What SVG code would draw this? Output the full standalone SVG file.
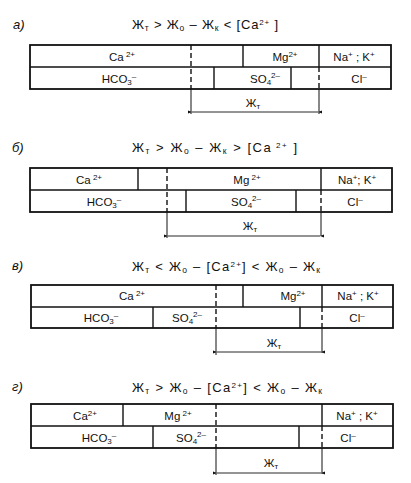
<svg xmlns="http://www.w3.org/2000/svg" width="411" height="483" viewBox="0 0 411 483">
<style>
text{font-family:"Liberation Sans","DejaVu Sans",sans-serif;fill:#111;}
.lbl{font-size:11.5px;text-anchor:middle;}
.ttl{font-size:13px;}
.tag{font-size:13px;font-style:italic;}
.box{fill:#fff;stroke:#111;stroke-width:1.8;}
.sep{stroke:#111;stroke-width:1.4;fill:none;}
.dash{stroke:#111;stroke-width:1.4;stroke-dasharray:5 3;fill:none;}
.thin{stroke:#111;stroke-width:1;fill:none;}
.br{stroke:#111;stroke-width:0.9;fill:none;marker-start:url(#ah);marker-end:url(#ah);}
</style>
<defs>
<marker id="ah" viewBox="0 0 6 6" refX="0" refY="3" markerWidth="4" markerHeight="4" orient="auto-start-reverse" markerUnits="userSpaceOnUse">
<path d="M0,3 L6,0.8 L6,5.2 Z" fill="#111"/>
</marker>
</defs>
<rect width="411" height="483" fill="#fff"/>

<g id="panel-a">
<text class="tag" x="13" y="29">а)</text>
<text class="ttl" x="132" y="29" textLength="146" lengthAdjust="spacing">Ж<tspan font-size="8.5" dy="2">т</tspan><tspan dy="-2"> &gt; Ж</tspan><tspan font-size="8.5" dy="2">о</tspan><tspan dy="-2"> – Ж</tspan><tspan font-size="8.5" dy="2">к</tspan><tspan dy="-2"> &lt; [Ca</tspan><tspan font-size="8" dy="-4">2+</tspan><tspan dy="4"> ]</tspan></text>
<rect class="box" x="30" y="45" width="361" height="44"/>
<line class="sep" x1="30" y1="67" x2="391" y2="67"/>
<line class="sep" x1="243" y1="45" x2="243" y2="67"/>
<line class="sep" x1="319" y1="45" x2="319" y2="67"/>
<line class="sep" x1="214" y1="67" x2="214" y2="89"/>
<line class="sep" x1="291" y1="67" x2="291" y2="89"/>
<line class="dash" x1="191" y1="45" x2="191" y2="89"/>
<line class="dash" x1="319" y1="67" x2="319" y2="89"/>
<text class="lbl" x="122" y="61">Ca<tspan font-size="8" dy="-4"> 2+</tspan></text>
<text class="lbl" x="285" y="61">Mg<tspan font-size="8" dy="-4">2+</tspan></text>
<text class="lbl" x="354" y="61">Na<tspan font-size="8" dy="-4">+</tspan><tspan dy="4"> ;  K</tspan><tspan font-size="8" dy="-4">+</tspan></text>
<text class="lbl" x="119" y="83">HCO<tspan font-size="8" dy="2">3</tspan><tspan font-size="8" dy="-6">–</tspan></text>
<text class="lbl" x="265" y="83">SO<tspan font-size="8" dy="2">4</tspan><tspan font-size="8" dy="-7">2–</tspan></text>
<text class="lbl" x="359" y="83">Cl<tspan font-size="8" dy="-4">–</tspan></text>
</g>
<g id="bracket-a">
<line class="thin" x1="191" y1="89" x2="191" y2="114"/>
<line class="thin" x1="319" y1="89" x2="319" y2="114"/>
<line class="br" x1="192" y1="112" x2="318" y2="112"/>
<text class="lbl" x="253" y="107">Ж<tspan font-size="8" dy="2">т</tspan></text>
</g>

<g id="panel-b">
<text class="tag" x="12" y="152">б)</text>
<text class="ttl" x="132" y="152" textLength="165" lengthAdjust="spacing">Ж<tspan font-size="8.5" dy="2">т</tspan><tspan dy="-2"> &gt; Ж</tspan><tspan font-size="8.5" dy="2">о</tspan><tspan dy="-2"> – Ж</tspan><tspan font-size="8.5" dy="2">к</tspan><tspan dy="-2"> &gt; [Ca</tspan><tspan font-size="8" dy="-4"> 2+</tspan><tspan dy="4"> ]</tspan></text>
<rect class="box" x="30" y="168" width="362" height="44"/>
<line class="sep" x1="30" y1="190" x2="392" y2="190"/>
<line class="sep" x1="138" y1="168" x2="138" y2="190"/>
<line class="sep" x1="321" y1="168" x2="321" y2="190"/>
<line class="sep" x1="186" y1="190" x2="186" y2="212"/>
<line class="sep" x1="296" y1="190" x2="296" y2="212"/>
<line class="dash" x1="167" y1="168" x2="167" y2="212"/>
<line class="dash" x1="321" y1="190" x2="321" y2="212"/>
<text class="lbl" x="89" y="184">Ca<tspan font-size="8" dy="-4"> 2+</tspan></text>
<text class="lbl" x="247" y="184">Mg<tspan font-size="8" dy="-4"> 2+</tspan></text>
<text class="lbl" x="357" y="184">Na<tspan font-size="8" dy="-4">+</tspan><tspan dy="4">;  K</tspan><tspan font-size="8" dy="-4">+</tspan></text>
<text class="lbl" x="104" y="206">HCO<tspan font-size="8" dy="2">3</tspan><tspan font-size="8" dy="-6">–</tspan></text>
<text class="lbl" x="246" y="206">SO<tspan font-size="8" dy="2">4</tspan><tspan font-size="8" dy="-7">2–</tspan></text>
<text class="lbl" x="355" y="206">Cl<tspan font-size="8" dy="-4">–</tspan></text>
</g>
<g id="bracket-b">
<line class="thin" x1="167" y1="212" x2="167" y2="238"/>
<line class="thin" x1="321" y1="212" x2="321" y2="236"/>
<line class="br" x1="168" y1="236" x2="320" y2="236"/>
<text class="lbl" x="250" y="230">Ж<tspan font-size="8" dy="2">т</tspan></text>
</g>

<g id="panel-v">
<text class="tag" x="12" y="270">в)</text>
<text class="ttl" x="132" y="271" textLength="188" lengthAdjust="spacing">Ж<tspan font-size="8.5" dy="2">т</tspan><tspan dy="-2"> &lt; Ж</tspan><tspan font-size="8.5" dy="2">о</tspan><tspan dy="-2"> – [Ca</tspan><tspan font-size="8" dy="-4">2+</tspan><tspan dy="4">] &lt; Ж</tspan><tspan font-size="8.5" dy="2">о</tspan><tspan dy="-2"> – Ж</tspan><tspan font-size="8.5" dy="2">к</tspan></text>
<rect class="box" x="31" y="285" width="362" height="43"/>
<line class="sep" x1="31" y1="307" x2="393" y2="307"/>
<line class="sep" x1="243" y1="285" x2="243" y2="307"/>
<line class="sep" x1="322" y1="285" x2="322" y2="307"/>
<line class="sep" x1="153" y1="307" x2="153" y2="328"/>
<line class="sep" x1="300" y1="307" x2="300" y2="328"/>
<line class="dash" x1="216" y1="285" x2="216" y2="328"/>
<line class="dash" x1="322" y1="307" x2="322" y2="328"/>
<text class="lbl" x="132" y="300">Ca<tspan font-size="8" dy="-4"> 2+</tspan></text>
<text class="lbl" x="293" y="300">Mg<tspan font-size="8" dy="-4">2+</tspan></text>
<text class="lbl" x="358" y="300">Na<tspan font-size="8" dy="-4">+</tspan><tspan dy="4"> ;  K</tspan><tspan font-size="8" dy="-4">+</tspan></text>
<text class="lbl" x="101" y="322">HCO<tspan font-size="8" dy="2">3</tspan><tspan font-size="8" dy="-6">–</tspan></text>
<text class="lbl" x="187" y="322">SO<tspan font-size="8" dy="2">4</tspan><tspan font-size="8" dy="-7">2–</tspan></text>
<text class="lbl" x="357" y="322">Cl<tspan font-size="8" dy="-4">–</tspan></text>
</g>
<g id="bracket-v">
<line class="thin" x1="216" y1="328" x2="216" y2="355"/>
<line class="thin" x1="322" y1="328" x2="322" y2="353"/>
<line class="br" x1="217" y1="352" x2="321" y2="352"/>
<text class="lbl" x="274" y="347">Ж<tspan font-size="8" dy="2">т</tspan></text>
</g>

<g id="panel-g">
<text class="tag" x="12" y="391">г)</text>
<text class="ttl" x="132" y="392" textLength="190" lengthAdjust="spacing">Ж<tspan font-size="8.5" dy="2">т</tspan><tspan dy="-2"> &gt; Ж</tspan><tspan font-size="8.5" dy="2">о</tspan><tspan dy="-2"> – [Ca</tspan><tspan font-size="8" dy="-4">2+</tspan><tspan dy="4">] &lt; Ж</tspan><tspan font-size="8.5" dy="2">о</tspan><tspan dy="-2"> – Ж</tspan><tspan font-size="8.5" dy="2">к</tspan></text>
<rect class="box" x="31" y="404" width="362" height="44"/>
<line class="sep" x1="31" y1="426" x2="393" y2="426"/>
<line class="sep" x1="123" y1="404" x2="123" y2="426"/>
<line class="sep" x1="322" y1="404" x2="322" y2="426"/>
<line class="sep" x1="153" y1="426" x2="153" y2="448"/>
<line class="sep" x1="299" y1="426" x2="299" y2="448"/>
<line class="dash" x1="216" y1="404" x2="216" y2="448"/>
<line class="dash" x1="322" y1="426" x2="322" y2="448"/>
<text class="lbl" x="85" y="420">Ca<tspan font-size="8" dy="-4">2+</tspan></text>
<text class="lbl" x="178" y="420">Mg<tspan font-size="8" dy="-4"> 2+</tspan></text>
<text class="lbl" x="357" y="420">Na<tspan font-size="8" dy="-4">+</tspan><tspan dy="4"> ;   K</tspan><tspan font-size="8" dy="-4">+</tspan></text>
<text class="lbl" x="99" y="442">HCO<tspan font-size="8" dy="2">3</tspan><tspan font-size="8" dy="-6">–</tspan></text>
<text class="lbl" x="191" y="442">SO<tspan font-size="8" dy="2">4</tspan><tspan font-size="8" dy="-7">2–</tspan></text>
<text class="lbl" x="348" y="442">Cl<tspan font-size="8" dy="-4">–</tspan></text>
</g>
<g id="bracket-g">
<line class="thin" x1="216" y1="448" x2="216" y2="475"/>
<line class="thin" x1="322" y1="448" x2="322" y2="474"/>
<line class="br" x1="217" y1="473" x2="321" y2="473"/>
<text class="lbl" x="271" y="467">Ж<tspan font-size="8" dy="2">т</tspan></text>
</g>
</svg>
